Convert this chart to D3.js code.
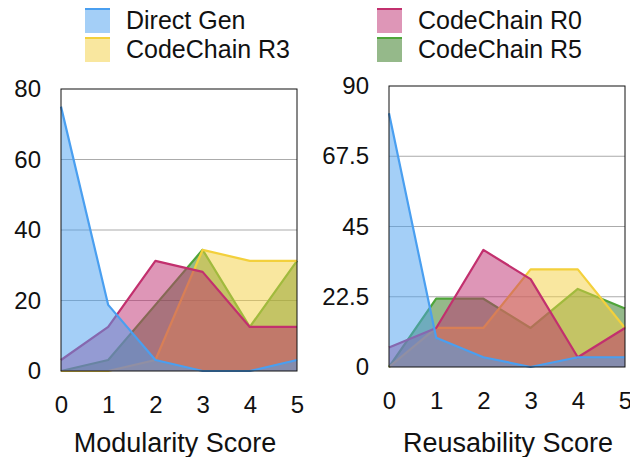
<!DOCTYPE html>
<html>
<head>
<meta charset="utf-8">
<script src="https://cdn.jsdelivr.net/npm/d3@7"></script>
<style>
  body { margin: 0; background: #fff; }
  svg text { font-family: "Liberation Sans", Arial, sans-serif; fill: #111; }
</style>
</head>
<body>
<svg id="chart" width="630" height="457"></svg>
<script>
// scores on the x axis
const scores = [0, 1, 2, 3, 4, 5];

const seriesNames = ["Direct Gen", "CodeChain R0", "CodeChain R3", "CodeChain R5"];

// modularity (% of samples per score)
const modDirect = [75, 18.75, 3.125, 0, 0, 3.125];
const modR0 = [3.125, 12.5, 31.25, 28.125, 12.5, 12.5];
const modR3 = [0, 0, 3.125, 34.375, 31.25, 31.25];
const modR5 = [0, 3.125, 18.75, 34.375, 12.5, 31.25];

// reusability
const reuDirect = [81.25, 9.375, 3.125, 0, 3.125, 3.125];
const reuR0 = [6.25, 12.5, 37.5, 28.125, 3.125, 12.5];
const reuR3 = [0, 12.5, 12.5, 31.25, 31.25, 12.5];
const reuR5 = [0, 21.875, 21.875, 12.5, 25, 18.75];

const modTicks = [0, 20, 40, 60, 80];
const reuTicks = [0, 22.5, 45, 67.5, 90];

const lineColor = {
    "Direct Gen": "#4a9ff0",
    "CodeChain R0": "#c2306e",
    "CodeChain R3": "#f3d03c",
    "CodeChain R5": "#4fa53a"
};
const fillColor = {
    "Direct Gen": "#4a9ff0",
    "CodeChain R0": "#bd2d6f",
    "CodeChain R3": "#f3cf40",
    "CodeChain R5": "#2b7315"
};

const svg = d3.select("#chart");

function drawPanel(opts) {
    const x = d3.scaleLinear().domain([0, 5]).range([opts.left, opts.right]);
    const y = d3.scaleLinear().domain([0, opts.max]).range([opts.bottom, opts.top]);
    const g = svg.append("g");

    // grid
    g.selectAll(".grid")
        .data(opts.ticks.filter(t => t > 0 && t < opts.max))
        .enter()
        .append("line")
        .attr("x1", opts.left).attr("x2", opts.right)
        .attr("y1", d => y(d)).attr("y2", d => y(d))
        .attr("stroke", "#ababab").attr("stroke-width", 1);

    const area = d3.area()
        .x((d, i) => x(scores[i]))
        .y0(y(0))
        .y1(d => y(d));
    const line = d3.line()
        .x((d, i) => x(scores[i]))
        .y(d => y(d));

    // back to front: R5, R3, R0, Direct Gen
    const order = seriesNames.slice().reverse();
    order.forEach(name => {
        const vals = opts.data[name];
        g.append("path")
            .attr("d", area(vals))
            .attr("fill", fillColor[name])
            .attr("fill-opacity", 0.5);
        g.append("path")
            .attr("d", line(vals))
            .attr("fill", "none")
            .attr("stroke", lineColor[name])
            .attr("stroke-width", 2.2)
            .attr("stroke-linejoin", "round");
    });

    // frame
    g.append("rect")
        .attr("x", opts.left).attr("y", opts.top)
        .attr("width", opts.right - opts.left)
        .attr("height", opts.bottom - opts.top)
        .attr("fill", "none").attr("stroke", "#111").attr("stroke-width", 1);

    const yAxis = d3.axisLeft(y).tickValues(opts.ticks).tickSize(0).tickPadding(20)
        .tickFormat(d => d);
    g.append("g")
        .attr("transform", `translate(${opts.left},0)`)
        .call(yAxis)
        .call(a => a.select(".domain").remove())
        .selectAll("text").style("font-size", "24px").attr("fill", "#111");

    const xAxis = d3.axisBottom(x).tickValues(scores).tickSize(0).tickPadding(25)
        .tickFormat(d3.format("d"));
    g.append("g")
        .attr("transform", `translate(0,${opts.bottom})`)
        .call(xAxis)
        .call(a => a.select(".domain").remove())
        .selectAll("text").style("font-size", "24px").attr("fill", "#111");

    g.append("text")
        .attr("x", (opts.left + opts.right) / 2 + opts.titleShift)
        .attr("y", 452)
        .attr("text-anchor", "middle")
        .style("font-size", "27px")
        .text(opts.title);
}

drawPanel({
    left: 61, right: 297, top: 89, bottom: 371, max: 80,
    ticks: modTicks, title: "Modularity Score", titleShift: -4,
    data: {"Direct Gen": modDirect, "CodeChain R0": modR0, "CodeChain R3": modR3, "CodeChain R5": modR5}
});
drawPanel({
    left: 389, right: 625, top: 86, bottom: 367, max: 90,
    ticks: reuTicks, title: "Reusability Score", titleShift: 1,
    data: {"Direct Gen": reuDirect, "CodeChain R0": reuR0, "CodeChain R3": reuR3, "CodeChain R5": reuR5}
});

// legend, two columns
const legendPos = [
    {name: "Direct Gen", x: 85, y: 8},
    {name: "CodeChain R0", x: 377, y: 8},
    {name: "CodeChain R3", x: 85, y: 37},
    {name: "CodeChain R5", x: 377, y: 37}
];
const leg = svg.append("g");
legendPos.forEach(p => {
    leg.append("rect")
        .attr("x", p.x).attr("y", p.y).attr("width", 25).attr("height", 25)
        .attr("fill", fillColor[p.name]).attr("fill-opacity", 0.5);
    leg.append("rect")
        .attr("x", p.x).attr("y", p.y).attr("width", 25).attr("height", 2)
        .attr("fill", lineColor[p.name]);
    leg.append("text")
        .attr("x", p.x + 41).attr("y", p.y + 21)
        .style("font-size", "25px")
        .text(p.name);
});
</script>
</body>
</html>
